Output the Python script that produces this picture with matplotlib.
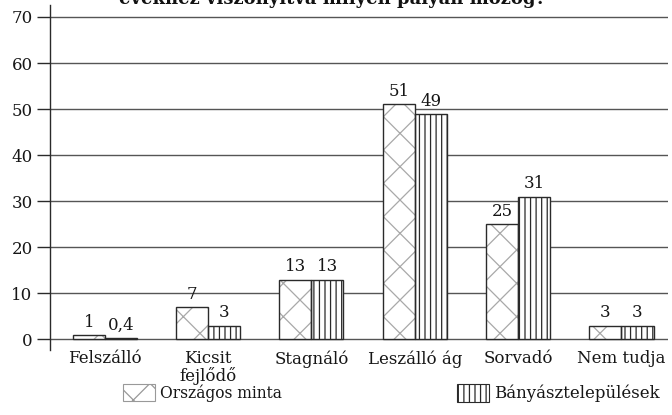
import matplotlib
matplotlib.use("Agg")
import matplotlib.pyplot as plt
from matplotlib.patches import Patch
import numpy as np

categories = ["Felszálló", "Kicsit\nfejlődő", "Stagnáló", "Leszálló ág", "Sorvadó", "Nem tudja"]
orszagos = [1, 7, 13, 51, 25, 3]
banyasz = [0.4, 3, 13, 49, 31, 3]
orszagos_labels = ["1", "7", "13", "51", "25", "3"]
banyasz_labels = ["0,4", "3", "13", "49", "31", "3"]
series_names = ["Országos minta", "Bányásztelepülések"]
yticks = [0, 10, 20, 30, 40, 50, 60, 70]
title = "évekhez viszonyítva milyen pályán mozog?"

FONT = ["DejaVu Serif"]
INK = "#161616"
plt.rcParams["font.family"] = FONT
plt.rcParams["hatch.linewidth"] = 0.9

fig = plt.figure(figsize=(6.72, 4.15), dpi=100)
ax = fig.add_axes([50 / 672, 1 - 350 / 415, 618 / 672, 345 / 415])

x = np.arange(len(categories))
w = 0.31

# grid lines sit behind the bars
for y in yticks:
    ax.axhline(y, color="#555555", linewidth=1.0, zorder=0)

# national sample: light diagonal hatch with dark outline
ax.bar(x - w / 2, orszagos, w, color="white", edgecolor="#a8a8a8", hatch="x", linewidth=0, zorder=2)
ax.bar(x - w / 2, orszagos, w, fill=False, edgecolor="#2a2a2a", linewidth=1.0, zorder=3)
# mining towns: dense vertical lines
ax.bar(x + w / 2, banyasz, w, color="white", edgecolor="#2a2a2a", hatch="|||", linewidth=1.0, zorder=2)

for xi, v, lab in zip(x - w / 2, orszagos, orszagos_labels):
    ax.annotate(lab, (xi, v), xytext=(0, 3), textcoords="offset points",
                ha="center", va="bottom", fontsize=12, color=INK)
for xi, v, lab in zip(x + w / 2, banyasz, banyasz_labels):
    ax.annotate(lab, (xi, v), xytext=(0, 3), textcoords="offset points",
                ha="center", va="bottom", fontsize=12, color=INK)

ax.set_xlim(-0.53, 5.45)
ax.set_ylim(-2.3, 72.6)
ax.set_yticks(yticks)
ax.set_yticklabels([str(t) for t in yticks], fontsize=12, color=INK)
ax.set_xticks(x)
ax.set_xticklabels(categories, fontsize=12, color=INK, linespacing=1.0)
ax.tick_params(axis="x", length=0, pad=0)
ax.tick_params(axis="y", length=9.5, width=1.0, color="#2a2a2a", pad=3)

for s in ["top", "right", "bottom"]:
    ax.spines[s].set_visible(False)
ax.spines["left"].set_color("#2a2a2a")
ax.spines["left"].set_linewidth(1.0)

fig.text(332 / 672, 1 - 4 / 415, title, ha="center", va="baseline",
         fontsize=13, fontweight="bold", color="#111111")

handles = [
    Patch(facecolor="white", edgecolor="#999999", hatch="x", linewidth=0.8),
    Patch(facecolor="white", edgecolor="#2a2a2a", hatch="|||", linewidth=0.8),
]
legend_x = [123 / 672, 457 / 672]
legend_fs = [11.2, 12]
for h, name, lx, fs in zip(handles, series_names, legend_x, legend_fs):
    fig.legend([h], [name], loc="center left",
               bbox_to_anchor=(lx, 1 - 393 / 415), frameon=False,
               fontsize=fs, handlelength=32 / (fs * 100 / 72),
               handleheight=1.3, handletextpad=0.3, borderpad=0,
               borderaxespad=0, labelcolor=INK)

fig.savefig("out.png", dpi=100, facecolor="white")
